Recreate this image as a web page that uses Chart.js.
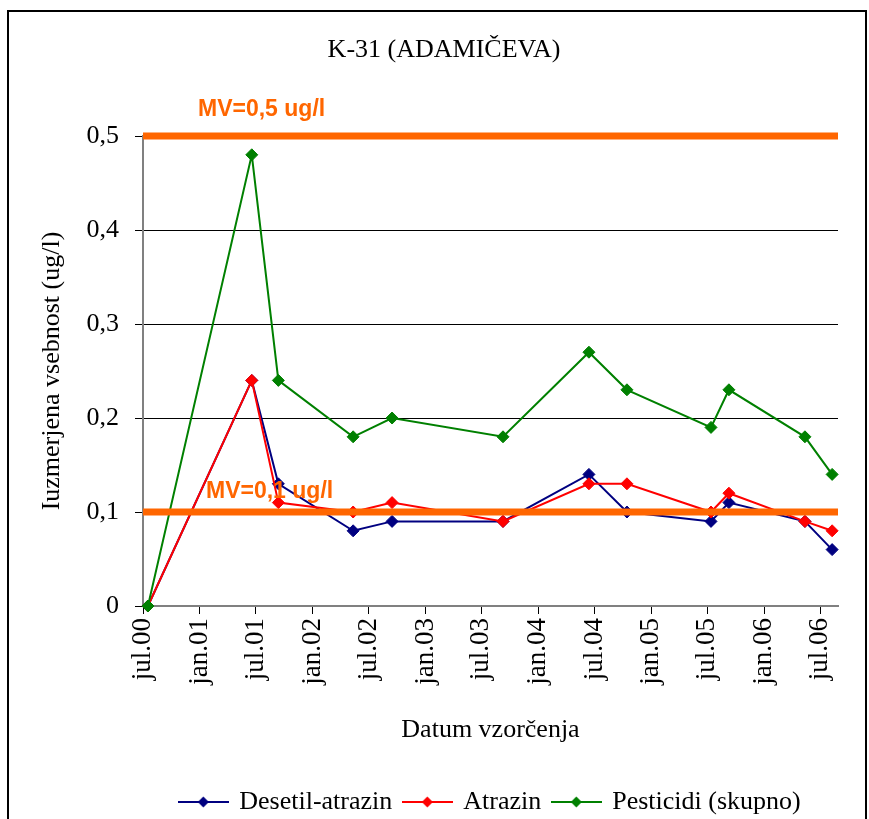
<!DOCTYPE html>
<html>
<head>
<meta charset="utf-8">
<title>K-31 (ADAMIČEVA)</title>
<script src="https://cdn.jsdelivr.net/npm/chart.js@4.4.1/dist/chart.umd.min.js"></script>
<style>
  html, body { margin: 0; padding: 0; background: #fff; overflow: hidden; }
  #frame { position: absolute; left: 7px; top: 10px; width: 860px; height: 900px; border: 2px solid #000; box-sizing: border-box; }
  #wrap { position: absolute; left: 0; top: 0; width: 869px; height: 825px; }
</style>
</head>
<body>
<div id="frame"></div>
<div id="wrap"><canvas id="myChart"></canvas></div>
<script>
// sampling dates and measured values
var sampleDates = ["2000-07-17", "2001-06-18", "2001-09-12", "2002-05-12", "2002-09-15", "2003-09-09",
                   "2004-06-13", "2004-10-14", "2005-07-13", "2005-09-09", "2006-05-13", "2006-08-09"];
var desetilAtrazin = [0, 0.24, 0.13, 0.08, 0.09, 0.09, 0.14, 0.10, 0.09, 0.11, 0.09, 0.06];
var atrazin        = [0, 0.24, 0.11, 0.10, 0.11, 0.09, 0.13, 0.13, 0.10, 0.12, 0.09, 0.08];
var pesticidi      = [0, 0.48, 0.24, 0.18, 0.20, 0.18, 0.27, 0.23, 0.19, 0.23, 0.18, 0.14];
var seriesNames = ["Desetil-atrazin", "Atrazin", "Pesticidi (skupno)"];

// limit values (MV)
var mvValues = [0.5, 0.1];
var mvLabels = ["MV=0,5 ug/l", "MV=0,1 ug/l"];

// axis
var axisStart = "2000-07-01";
var axisEnd = "2006-08-28";
var tickMonths = ["jan", "jul"];
var yTicks = [0, 0.1, 0.2, 0.3, 0.4, 0.5];

var seriesColors = ["#000080", "#FF0000", "#008000"];
var mvColor = "#FF6600";
var serif = "'Liberation Serif', 'Times New Roman', serif";

var xMin = Date.parse(axisStart);
var xMax = Date.parse(axisEnd);

var tickDates = [];
for (var yr = 2000; yr <= 2006; yr++) {
  [0, 6].forEach(function (m) {
    var t = Date.UTC(yr, m, 1);
    if (t >= xMin && t <= xMax) tickDates.push(t);
  });
}

function points(values) {
  return values.map(function (v, i) { return { x: Date.parse(sampleDates[i]), y: v }; });
}

function legendIcon(color) {
  var c = document.createElement("canvas");
  c.width = 51; c.height = 12;
  var g = c.getContext("2d");
  g.strokeStyle = color; g.fillStyle = color; g.lineWidth = 2;
  g.beginPath(); g.moveTo(0, 6); g.lineTo(51, 6); g.stroke();
  g.beginPath(); g.moveTo(25.5, 0.5); g.lineTo(31, 6); g.lineTo(25.5, 11.5); g.lineTo(20, 6); g.closePath(); g.fill();
  return c;
}

function seriesDataset(i, values, order) {
  return {
    label: seriesNames[i],
    data: points(values),
    borderColor: seriesColors[i],
    backgroundColor: seriesColors[i],
    borderWidth: 2,
    pointStyle: "rectRot",
    pointRadius: 6,
    pointBackgroundColor: seriesColors[i],
    pointBorderColor: seriesColors[i],
    pointBorderWidth: 1,
    tension: 0,
    clip: false,
    order: order
  };
}

var datasets = [
  seriesDataset(0, desetilAtrazin, 3),
  seriesDataset(1, atrazin, 2),
  seriesDataset(2, pesticidi, 1)
];
mvValues.forEach(function (v, i) {
  datasets.push({
    label: mvLabels[i],
    data: [{ x: xMin, y: v }, { x: xMax, y: v }],
    borderColor: mvColor,
    borderWidth: 7,
    pointRadius: 0,
    clip: false,
    order: 0
  });
});

// labels above the MV lines
var mvLabelDx = [55, 63];
var mvLabelDy = [-26, -20];
var mvLabelPlugin = {
  id: "mvLabels",
  afterDatasetsDraw: function (chart) {
    var ctx = chart.ctx, y = chart.scales.y;
    ctx.save();
    ctx.font = "bold 23px 'Liberation Sans', Arial, sans-serif";
    ctx.fillStyle = mvColor;
    ctx.textAlign = "left";
    ctx.textBaseline = "middle";
    mvValues.forEach(function (v, i) {
      ctx.fillText(mvLabels[i], chart.chartArea.left + mvLabelDx[i], y.getPixelForValue(v) + mvLabelDy[i]);
    });
    ctx.restore();
  }
};

Chart.defaults.font.family = serif;
Chart.defaults.color = "#000";

new Chart("myChart", {
  type: "line",
  data: { datasets: datasets },
  plugins: [mvLabelPlugin],
  options: {
    responsive: true,
    maintainAspectRatio: false,
    animation: false,
    events: [],
    layout: { padding: { left: 50, right: 31, top: 0, bottom: 0 } },
    scales: {
      x: {
        type: "linear",
        min: xMin,
        max: xMax,
        afterBuildTicks: function (s) { s.ticks = tickDates.map(function (t) { return { value: t }; }); },
        afterFit: function (s) { s.height = 171; },
        ticks: {
          autoSkip: false,
          minRotation: 90,
          maxRotation: 90,
          padding: 4,
          color: "#000",
          font: { family: serif, size: 27 },
          callback: function (v) {
            var d = new Date(v);
            return tickMonths[d.getUTCMonth() < 6 ? 0 : 1] + "." + String(d.getUTCFullYear()).slice(2);
          }
        },
        grid: { drawOnChartArea: false, tickLength: 8, tickColor: "#000", tickWidth: 1 },
        border: { color: "#808080", width: 2 },
        title: { display: true, text: "Datum vzorčenja", color: "#000", font: { family: serif, size: 26 }, padding: { top: 0, bottom: 31.4 } }
      },
      y: {
        min: 0,
        max: 0.5,
        afterBuildTicks: function (s) { s.ticks = yTicks.map(function (t) { return { value: t }; }); },
        afterFit: function (s) { s.width = 93; },
        ticks: {
          padding: 16,
          color: "#000",
          font: { family: serif, size: 26 },
          callback: function (v) { return v === 0 ? "0" : v.toFixed(1).replace(".", ","); }
        },
        grid: { color: "#000", lineWidth: 1, tickLength: 8, tickColor: "#000" },
        border: { color: "#808080", width: 2 },
        title: { display: true, text: "Iuzmerjena vsebnost (ug/l)", color: "#000", font: { family: serif, size: 26 }, padding: { top: -13.6, bottom: 0 } }
      }
    },
    plugins: {
      title: {
        display: true,
        text: "K-31 (ADAMIČEVA)",
        color: "#000",
        font: { family: serif, size: 26, weight: "normal" },
        padding: { top: 34.4, bottom: 70.4 }
      },
      tooltip: { enabled: false },
      legend: {
        position: "bottom",
        fullSize: false,
        labels: {
          usePointStyle: true,
          pointStyleWidth: 46,
          padding: 12,
          color: "#000",
          font: { family: serif, size: 26 },
          filter: function (item) { return item.datasetIndex < seriesNames.length; },
          sort: function (a, b) { return a.datasetIndex - b.datasetIndex; },
          generateLabels: function (chart) {
            return Chart.defaults.plugins.legend.labels.generateLabels(chart).map(function (item) {
              item.pointStyle = legendIcon(seriesColors[item.datasetIndex] || mvColor);
              item.rotation = 0;
              return item;
            });
          }
        }
      }
    }
  }
});
</script>
</body>
</html>
